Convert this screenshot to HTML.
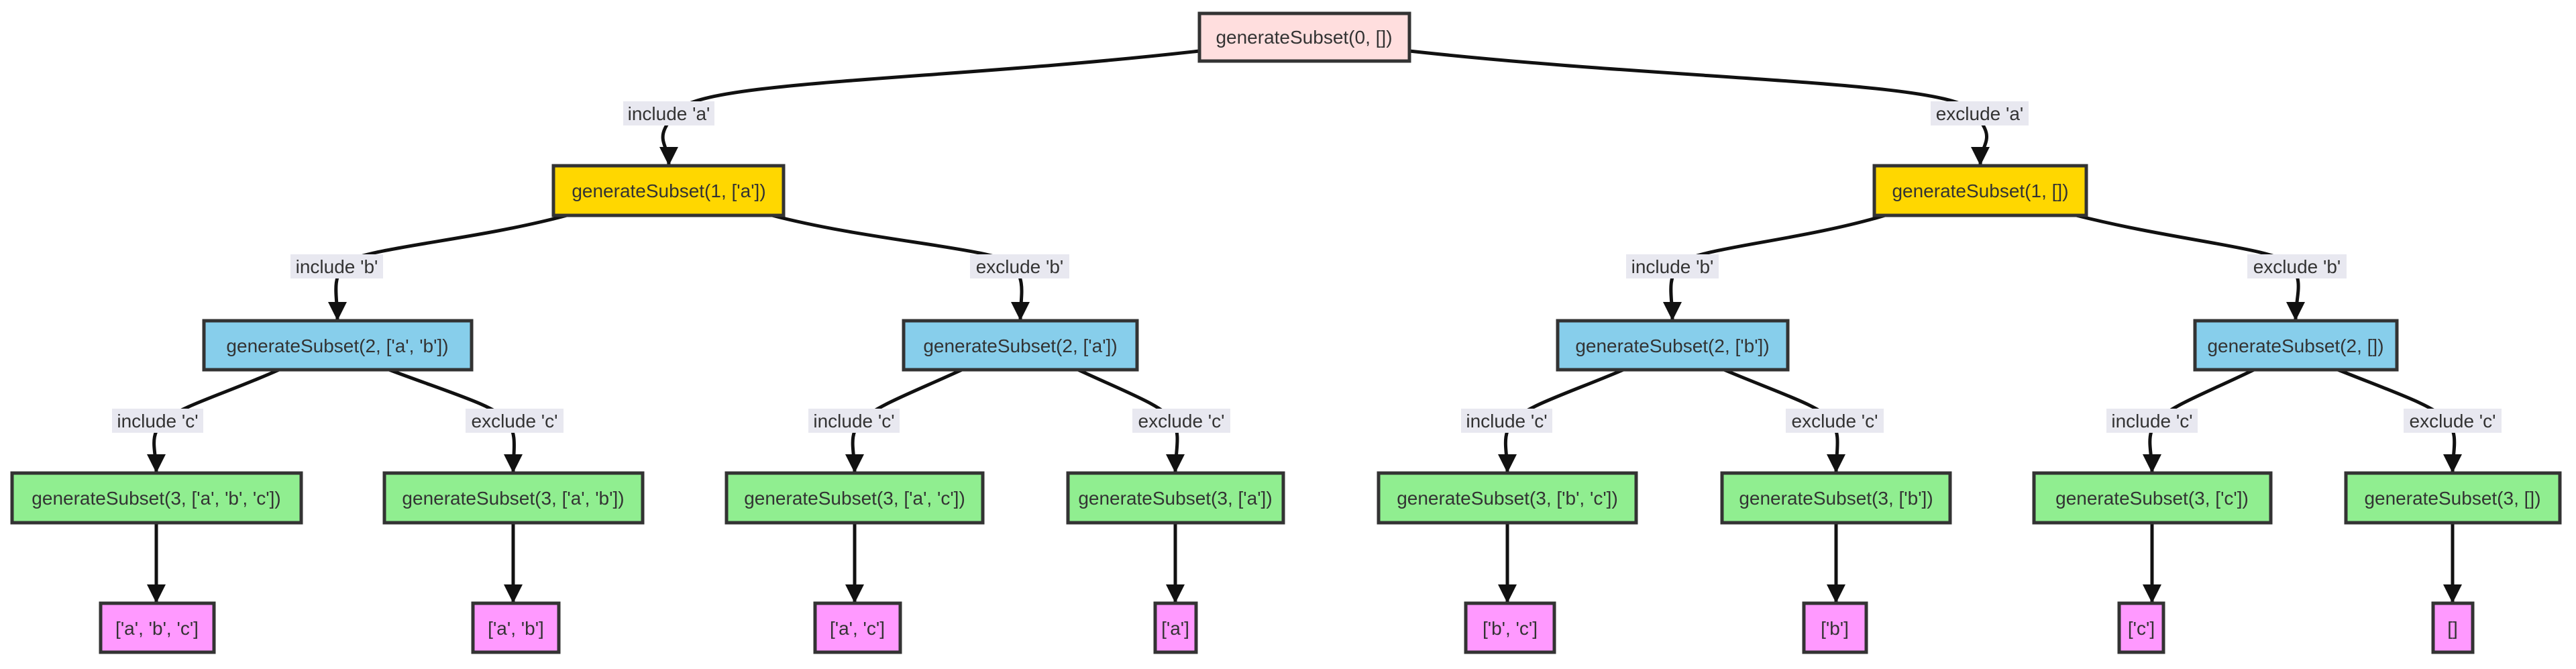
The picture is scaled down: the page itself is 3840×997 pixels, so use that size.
<!DOCTYPE html>
<html><head><meta charset="utf-8"><style>
html,body{margin:0;padding:0;background:#fff;}
svg{display:block;}
text{font-family:"Liberation Sans",Arial,sans-serif;fill:#333;}
</style></head><body>
<svg width="3840" height="997" viewBox="0 0 3840 997" xmlns="http://www.w3.org/2000/svg">
<defs>
<marker id="ah" markerUnits="userSpaceOnUse" markerWidth="30" markerHeight="32" refX="28" refY="14" orient="auto">
<path d="M0,0 L28,14 L0,28 z" fill="#111"/>
</marker>
</defs>
<g fill="none" stroke="#111" stroke-width="5" marker-end="url(#ah)">
<path d="M1788,76 C1400,120 1050,120 1010,165 S997,210 997,247"/>
<path d="M2101,76 C2500,120 2900,120 2940,165 S2952,210 2952,247"/>
<path d="M845,321 C700,360 530,370 512,395 S503,440 503,478"/>
<path d="M1151,321 C1300,360 1490,370 1510,395 S1521,440 1521,478"/>
<path d="M2810,321 C2680,360 2520,370 2502,395 S2493,440 2493,478"/>
<path d="M3095,321 C3250,360 3395,370 3415,395 S3422,440 3422,478"/>
<path d="M416,551 C340,585 270,605 245,627 S233,670 233,705"/>
<path d="M580,551 C670,585 740,605 756,627 S765,670 765,705"/>
<path d="M1434,551 C1360,585 1305,605 1284,627 S1274,670 1274,705"/>
<path d="M1607,551 C1680,585 1735,605 1748,627 S1752,670 1752,705"/>
<path d="M2420,551 C2340,585 2275,605 2256,627 S2247,670 2247,705"/>
<path d="M2570,551 C2650,585 2715,605 2730,627 S2737,670 2737,705"/>
<path d="M3360,551 C3290,585 3235,605 3216,627 S3208,670 3208,705"/>
<path d="M3485,551 C3570,585 3630,605 3648,627 S3656,670 3656,705"/>
<path d="M233,779 L233,899"/><path d="M765,779 L765,899"/>
<path d="M1274,779 L1274,899"/><path d="M1752,779 L1752,899"/>
<path d="M2247,779 L2247,899"/><path d="M2737,779 L2737,899"/>
<path d="M3208,779 L3208,899"/><path d="M3656,779 L3656,899"/>
</g>
<g font-size="28" text-anchor="middle">
<g fill="#e8e8f0">
<rect x="929" y="151" width="136" height="36"/>
<rect x="2878" y="151" width="146" height="36"/>
<rect x="433" y="379" width="138" height="36"/>
<rect x="1446" y="379" width="148" height="36"/>
<rect x="2424" y="379" width="138" height="36"/>
<rect x="3350" y="379" width="148" height="36"/>
<rect x="167" y="609" width="136" height="36"/>
<rect x="694" y="609" width="146" height="36"/>
<rect x="1205" y="609" width="136" height="36"/>
<rect x="1688" y="609" width="146" height="36"/>
<rect x="2178" y="609" width="136" height="36"/>
<rect x="2662" y="609" width="146" height="36"/>
<rect x="3140" y="609" width="136" height="36"/>
<rect x="3583" y="609" width="146" height="36"/>
</g>
<text x="997" y="179">include 'a'</text>
<text x="2951" y="179">exclude 'a'</text>
<text x="502" y="407">include 'b'</text>
<text x="1520" y="407">exclude 'b'</text>
<text x="2493" y="407">include 'b'</text>
<text x="3424" y="407">exclude 'b'</text>
<text x="235" y="637">include 'c'</text>
<text x="767" y="637">exclude 'c'</text>
<text x="1273" y="637">include 'c'</text>
<text x="1761" y="637">exclude 'c'</text>
<text x="2246" y="637">include 'c'</text>
<text x="2735" y="637">exclude 'c'</text>
<text x="3208" y="637">include 'c'</text>
<text x="3656" y="637">exclude 'c'</text>
</g>
<g stroke="#333" stroke-width="5">
<rect x="1788" y="20" width="313" height="71" fill="#ffdede"/>
<rect x="825" y="247" width="343" height="74" fill="#ffd700"/>
<rect x="2794" y="247" width="316" height="74" fill="#ffd700"/>
<rect x="304" y="478" width="399" height="73" fill="#87ceeb"/>
<rect x="1347" y="478" width="348" height="73" fill="#87ceeb"/>
<rect x="2322" y="478" width="343" height="73" fill="#87ceeb"/>
<rect x="3272" y="478" width="301" height="73" fill="#87ceeb"/>
<rect x="18" y="705" width="431" height="74" fill="#90ee90"/>
<rect x="573" y="705" width="385" height="74" fill="#90ee90"/>
<rect x="1083" y="705" width="382" height="74" fill="#90ee90"/>
<rect x="1592" y="705" width="321" height="74" fill="#90ee90"/>
<rect x="2055" y="705" width="384" height="74" fill="#90ee90"/>
<rect x="2567" y="705" width="340" height="74" fill="#90ee90"/>
<rect x="3032" y="705" width="353" height="74" fill="#90ee90"/>
<rect x="3497" y="705" width="319" height="74" fill="#90ee90"/>
<rect x="150" y="899" width="169" height="73" fill="#ff99ff"/>
<rect x="705" y="899" width="128" height="73" fill="#ff99ff"/>
<rect x="1215" y="899" width="127" height="73" fill="#ff99ff"/>
<rect x="1722" y="899" width="61" height="73" fill="#ff99ff"/>
<rect x="2185" y="899" width="132" height="73" fill="#ff99ff"/>
<rect x="2689" y="899" width="93" height="73" fill="#ff99ff"/>
<rect x="3159" y="899" width="66" height="73" fill="#ff99ff"/>
<rect x="3627" y="899" width="59" height="73" fill="#ff99ff"/>
</g>
<g font-size="28" text-anchor="middle">
<text x="1944" y="65">generateSubset(0, [])</text>
<text x="997" y="294">generateSubset(1, ['a'])</text>
<text x="2952" y="294">generateSubset(1, [])</text>
<text x="503" y="525">generateSubset(2, ['a', 'b'])</text>
<text x="1521" y="525">generateSubset(2, ['a'])</text>
<text x="2493" y="525">generateSubset(2, ['b'])</text>
<text x="3422" y="525">generateSubset(2, [])</text>
<text x="233" y="752">generateSubset(3, ['a', 'b', 'c'])</text>
<text x="765" y="752">generateSubset(3, ['a', 'b'])</text>
<text x="1274" y="752">generateSubset(3, ['a', 'c'])</text>
<text x="1752" y="752">generateSubset(3, ['a'])</text>
<text x="2247" y="752">generateSubset(3, ['b', 'c'])</text>
<text x="2737" y="752">generateSubset(3, ['b'])</text>
<text x="3208" y="752">generateSubset(3, ['c'])</text>
<text x="3656" y="752">generateSubset(3, [])</text>
<text x="234" y="946">['a', 'b', 'c']</text>
<text x="769" y="946">['a', 'b']</text>
<text x="1278" y="946">['a', 'c']</text>
<text x="1752" y="946">['a']</text>
<text x="2251" y="946">['b', 'c']</text>
<text x="2735" y="946">['b']</text>
<text x="3192" y="946">['c']</text>
<text x="3656" y="946">[]</text>
</g>
</svg>
</body></html>
